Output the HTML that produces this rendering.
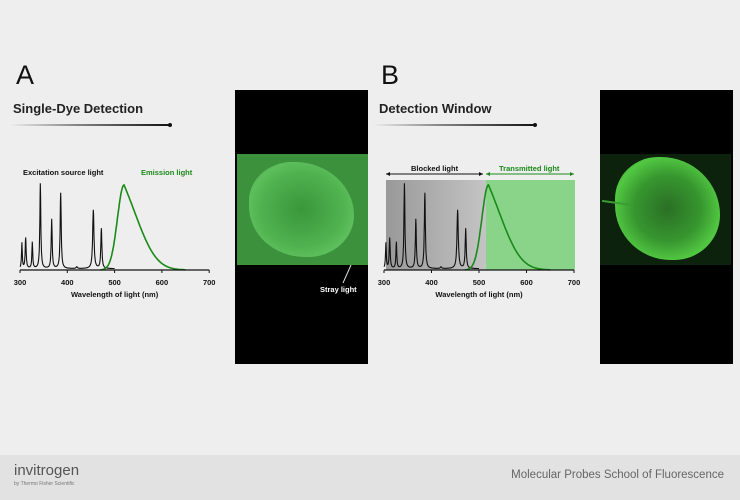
<!DOCTYPE html>
<html><head><meta charset="utf-8"><style>
body{margin:0;width:740px;height:500px;background:#eeeeee;position:relative;overflow:hidden;font-family:"Liberation Sans",sans-serif}
.abs{position:absolute;white-space:nowrap}
</style></head><body>
<div class="abs" style="left:0;top:455px;width:740px;height:45px;background:#e2e2e2"></div>
<div class="abs" style="left:16px;top:60px;font-size:27px;color:#111">A</div>
<div class="abs" style="left:381px;top:60px;font-size:27px;color:#111">B</div>
<div class="abs" style="left:13px;top:101px;font-size:13px;font-weight:bold;color:#222">Single-Dye Detection</div>
<div class="abs" style="left:379px;top:101px;font-size:13px;font-weight:bold;color:#222">Detection Window</div>
<div class="abs" style="left:10px;top:124px;width:160px;height:1.5px;background:linear-gradient(90deg,#eee,#888 40%,#111)"></div>
<div class="abs" style="left:168px;top:123px;width:4px;height:4px;border-radius:2px;background:#111"></div>
<div class="abs" style="left:373px;top:124px;width:162px;height:1.5px;background:linear-gradient(90deg,#eee,#888 40%,#111)"></div>
<div class="abs" style="left:533px;top:123px;width:4px;height:4px;border-radius:2px;background:#111"></div>

<!-- image A -->
<div class="abs" style="left:235px;top:90px;width:133px;height:274px;background:#000"></div>
<div class="abs" style="left:237px;top:154px;width:131px;height:111px;background:#3c923c;overflow:hidden">
<div class="abs" style="left:12px;top:8px;width:105px;height:95px;border-radius:42% 58% 45% 55%;background:radial-gradient(ellipse at 50% 50%,#3a963a,#4fb24f 55%,#5cbf5c 72%,#48a648 85%,transparent 95%)"></div>
</div>
<div class="abs" style="left:320px;top:285px;font-size:7.5px;font-weight:bold;color:#fff">Stray light</div>
<svg class="abs" style="left:0;top:0" width="740" height="500">
<line x1="351" y1="265" x2="343" y2="283" stroke="#ddd" stroke-width="1"/>
</svg>

<!-- image B -->
<div class="abs" style="left:600px;top:90px;width:133px;height:274px;background:#000"></div>
<div class="abs" style="left:600px;top:154px;width:131px;height:111px;background:#0c220c;overflow:hidden">
<div class="abs" style="left:15px;top:3px;width:105px;height:103px;border-radius:42% 58% 45% 55%;background:radial-gradient(ellipse at 50% 50%,#2a6f25,#37962f 45%,#52c842 72%,#3a9a30 88%,transparent 96%)"></div>
<div class="abs" style="left:2px;top:48px;width:30px;height:2px;background:#3c9c34;transform:rotate(8deg)"></div>
</div>

<svg class="abs" style="left:0;top:0" width="740" height="500" font-family="Liberation Sans, sans-serif">
<defs><linearGradient id="gg" x1="0" x2="1"><stop offset="0" stop-color="#999"/><stop offset="1" stop-color="#c4c4c4"/></linearGradient></defs>
<rect x="386" y="180" width="100" height="90" fill="url(#gg)"/>
<rect x="486" y="180" width="89" height="90" fill="#8ad48a"/>
<g id="ax"></g>
<text x="23" y="175" font-size="7.5" font-weight="bold" fill="#111">Excitation source light</text>
<text x="141" y="175" font-size="7.5" font-weight="bold" fill="#1a8a1a">Emission light</text>
<text x="411" y="171" font-size="7.5" font-weight="bold" fill="#111">Blocked light</text>
<text x="499" y="171" font-size="7.5" font-weight="bold" fill="#1a8a1a">Transmitted light</text>
<line x1="386" y1="174" x2="483" y2="174" stroke="#111"/><path d="M386,174 l4,-2 v4z M483,174 l-4,-2 v4z" fill="#111"/>
<line x1="486" y1="174" x2="574" y2="174" stroke="#1a8a1a"/><path d="M486,174 l4,-2 v4z M574,174 l-4,-2 v4z" fill="#1a8a1a"/>
</svg>
<script>
function build(x0,s){
 var X=function(nm){return x0+(nm-300)*s};
 var base=270,H=85;
 var pk=[[304,.3,1.2],[312,.36,1.5],[326,.31,1.3],[343,1,1.5],[367,.58,1.5],[386,.89,1.6],[420,.02,2],[455,.69,2],[472,.47,1.6]];
 var d="";
 for(var nm=300;nm<=500;nm+=0.5){var v=0.015;pk.forEach(function(p){var t=(nm-p[0])/p[2];v+=p[1]/(1+t*t*1.5);});
  d+=(d?"L":"M")+X(nm).toFixed(1)+","+(base-v*H).toFixed(1);}
 var e="";
 for(var nm=470;nm<=650;nm+=1){var t=nm-520;var v=t<0?Math.exp(-t*t/(2*14*14)):Math.exp(-t*t/(2*38*38))*0.6+Math.exp(-t/30)*0.4*Math.exp(-t*t/(2*60*60));
  e+=(e?"L":"M")+X(nm).toFixed(1)+","+(base-v*H).toFixed(1);}
 var g='<path d="'+d+'" fill="none" stroke="#111" stroke-width="1.1"/>';
 g+='<path d="'+e+'" fill="none" stroke="#1a8a1a" stroke-width="1.6"/>';
 g+='<line x1="'+X(300)+'" y1="'+base+'" x2="'+X(700)+'" y2="'+base+'" stroke="#111" stroke-width="1.2"/>';
 for(var n=300;n<=700;n+=100){g+='<line x1="'+X(n)+'" y1="'+base+'" x2="'+X(n)+'" y2="'+(base+3)+'" stroke="#111"/>';
  g+='<text x="'+X(n)+'" y="'+(base+15)+'" font-size="7.5" font-weight="bold" text-anchor="middle" fill="#111">'+n+'</text>';}
 g+='<text x="'+X(500)+'" y="'+(base+27)+'" font-size="7.5" font-weight="bold" text-anchor="middle" fill="#111">Wavelength of light (nm)</text>';
 return g;}
document.getElementById("ax").innerHTML=build(20,0.473)+build(384,0.475);
</script>

<div class="abs" style="left:14px;top:462px;font-size:15px;color:#555">invitrogen</div>
<div class="abs" style="left:14px;top:481px;font-size:5px;color:#777">by Thermo Fisher Scientific</div>
<div class="abs" style="right:16px;top:469px;font-size:11.5px;color:#666">Molecular Probes School of Fluorescence</div>
</body></html>
